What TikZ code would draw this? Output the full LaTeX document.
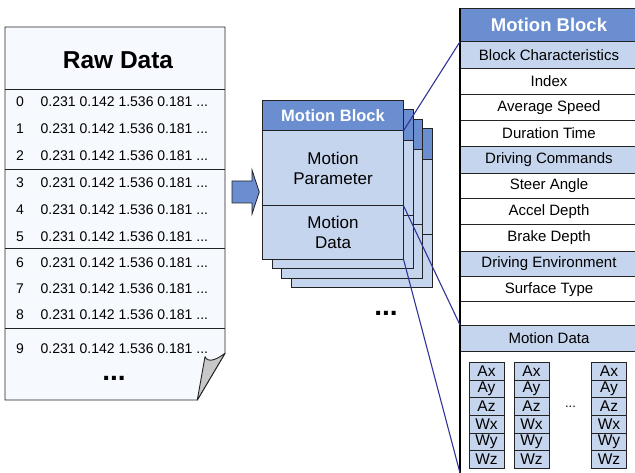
\documentclass[tikz,border=0pt]{standalone}
\usepackage{fontspec}
\setmainfont{Liberation Sans}
\definecolor{hdrblue}{RGB}{106,142,208}
\definecolor{ltblue}{RGB}{198,213,238}
\definecolor{navy}{RGB}{51,51,153}
\definecolor{docfill}{RGB}{246,249,253}
\definecolor{foldgray}{RGB}{200,200,200}
\definecolor{edge}{RGB}{35,35,35}
\tikzset{
  box/.style={draw=edge, line width=0.9bp, inner sep=0pt, outer sep=0pt, anchor=north west},
  rowtext/.style={font=\fontsize{14bp}{16bp}\selectfont, inner sep=0pt},
  dots/.style={font=\fontsize{28bp}{30bp}\selectfont\bfseries, inner sep=0pt},
  conn/.style={draw=navy, line width=1.1bp},
  docline/.style={draw=edge, line width=0.9bp},
}
\begin{document}
\begin{tikzpicture}[x=1bp,y=-1bp]
\useasboundingbox (0,0) rectangle (635,473);
\clip (0,0) rectangle (635,473);

% ---------- Raw data document ----------
\draw[docline, fill=docfill] (5,27) -- (225,27) -- (225,353.3) -- (197.3,400) -- (5,400) -- cycle;
\draw[docline, fill=foldgray, line join=round] (225,353.3) .. controls (216,360) and (208,363) .. (205,356.7) -- (197.3,400) -- cycle;
\draw[docline] (5,89.5) -- (225,89.5);
\draw[docline] (5,169.5) -- (225,169.5);
\draw[docline] (5,248) -- (225,248);
\draw[docline] (5,328) -- (225,328);
\node[font=\fontsize{24.5bp}{28bp}\selectfont\bfseries, inner sep=0pt] (rawtitle) at (118,60) {Raw Data};
\foreach \i/\y in {0/101.5,1/128.5,2/155.5,3/183,4/210,5/237,6/263,7/289,8/315,9/349}{
  \node[rowtext] (idx\i) at (20,\y) {\i};
  \node[rowtext, anchor=west] (val\i) at (40.5,\y) {0.231 0.142 1.536 0.181 ...};
}
\node[dots] (docdots) at (114,378) {...};

% ---------- block arrow ----------
\draw[draw=edge, line width=0.8bp, fill=hdrblue] (232,181) -- (252,181) -- (252,170) -- (259.3,192) -- (252,214) -- (252,203) -- (232,203) -- cycle;

% ---------- stack of motion blocks ----------
\foreach \i in {3,2,1}{
  \node[box, fill=hdrblue, minimum width=141bp, minimum height=30.7bp] (h\i) at ({262.5+9.5*\i},{100+9.5*\i}) {};
  \node[box, fill=ltblue, minimum width=141bp, minimum height=75bp] (p\i) at (h\i.south west) {};
  \node[box, fill=ltblue, minimum width=141bp, minimum height=53.6bp] (d\i) at (p\i.south west) {};
}
\node[box, fill=hdrblue, minimum width=141bp, minimum height=30.7bp, text=white,
      font=\fontsize{16.5bp}{18bp}\selectfont\bfseries] (h0) at (262.5,100) {Motion Block};
\node[box, fill=ltblue, minimum width=141bp, minimum height=75bp, align=center,
      font=\fontsize{17bp}{20bp}\selectfont] (p0) at (h0.south west) {Motion\\Parameter};
\node[box, fill=ltblue, minimum width=141bp, minimum height=53.6bp, align=center,
      font=\fontsize{17bp}{20bp}\selectfont] (d0) at (p0.south west) {Motion\\Data};
\node[dots] (stackdots) at (386,313) {...};

% ---------- right panel ----------
\node[box, fill=hdrblue, minimum width=178bp, minimum height=33.4bp, text=white,
      font=\fontsize{18.5bp}{20bp}\selectfont\bfseries] (pmb) at (460,8.3) {Motion Block};
\foreach \nm/\top/\h/\txt/\fc in {
  bc/41.7/26.6/Block Characteristics/ltblue,
  idx/68.3/26/Index/white,
  avg/94.3/26.2/Average Speed/white,
  dur/120.5/26.2/Duration Time/white,
  dc/146.7/26.6/Driving Commands/ltblue,
  steer/173.3/25/Steer Angle/white,
  accel/198.3/26/Accel Depth/white,
  brake/224.3/26.7/Brake Depth/white,
  de/251/25.7/Driving Environment/ltblue,
  surf/276.7/25/Surface Type/white,
  empty/301.7/23.3/{}/white,
  md/325/26.7/Motion Data/ltblue,
  rest/351.7/130/{}/white}{
  \node[box, fill=\fc, minimum width=178bp, minimum height=\h bp,
        font=\fontsize{15bp}{17bp}\selectfont] (\nm) at (460,\top) {\txt};
}
\draw[draw=black, line width=1.2bp] (pmb.north west) -- (rest.south west);

% grid of motion data
\foreach \c/\x in {a/469,b/514,c/591.5}{
  \foreach \t [count=\r] in {Ax,Ay,Az,Wx,Wy,Wz}{
    \node[box, fill=ltblue, minimum width=35bp, minimum height=17.67bp,
          font=\fontsize{15.5bp}{16bp}\selectfont] (g\c\r) at ({\x},{362.3+(\r-1)*17.67}) {\t};
  }
}
\node[font=\fontsize{13bp}{14bp}\selectfont, inner sep=0pt] (griddots) at (570.5,407) {...};

% ---------- connectors ----------
\coordinate (pbot) at (460,473);
\draw[conn] (h0.south east) -- (pmb.south west);
\draw[conn] (p0.south east) -- (md.north west);
\draw[conn] (d0.south east) -- (pbot);
\end{tikzpicture}
\end{document}
